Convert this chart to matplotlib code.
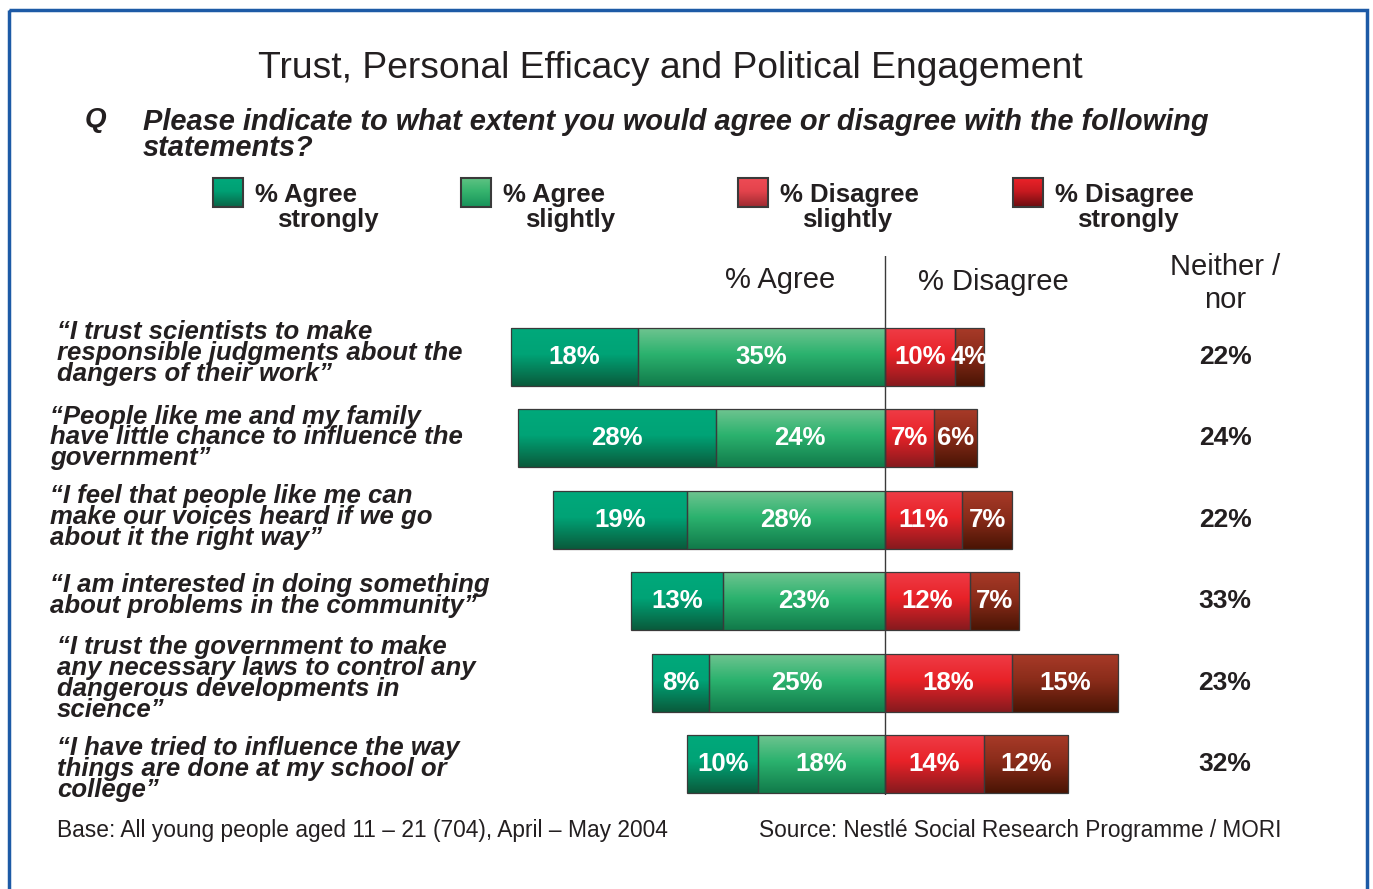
import numpy as np
import matplotlib
matplotlib.use("Agg")
import matplotlib.pyplot as plt
from matplotlib.colors import LinearSegmentedColormap
from matplotlib.patches import Rectangle

plt.rcParams['font.family'] = ['Liberation Sans', 'DejaVu Sans']

statements = [
    "\u201cI trust scientists to make\nresponsible judgments about the\ndangers of their work\u201d",
    "\u201cPeople like me and my family\nhave little chance to influence the\ngovernment\u201d",
    "\u201cI feel that people like me can\nmake our voices heard if we go\nabout it the right way\u201d",
    "\u201cI am interested in doing something\nabout problems in the community\u201d",
    "\u201cI trust the government to make\nany necessary laws to control any\ndangerous developments in\nscience\u201d",
    "\u201cI have tried to influence the way\nthings are done at my school or\ncollege\u201d",
]
agree_strongly = [18, 28, 19, 13, 8, 10]
agree_slightly = [35, 24, 28, 23, 25, 18]
disagree_slightly = [10, 7, 11, 12, 18, 14]
disagree_strongly = [4, 6, 7, 7, 15, 12]
neither = [22, 24, 22, 33, 23, 32]

legend_labels = [("% Agree", "strongly"), ("% Agree", "slightly"),
                 ("% Disagree", "slightly"), ("% Disagree", "strongly")]

# top -> middle -> bottom shading for each segment type
shades = [
    ["#00a97b", "#00a376", "#0a5a3b"],
    ["#6fc490", "#2bb26e", "#117a4a"],
    ["#ef3c46", "#e82228", "#861a1e"],
    ["#a83a28", "#8a2c1a", "#4a1404"],
]
key_shades = [
    ["#00a97b", "#00a074", "#0a6446"],
    ["#5fc283", "#36b46e", "#17925a"],
    ["#ef4b55", "#e3434c", "#9c2a30"],
    ["#ec2229", "#c81a20", "#6a0c10"],
]


def make_cmaps(sets):
    return [LinearSegmentedColormap.from_list(f"s{i}", list(zip([0, 0.45, 1], c)))
            for i, c in enumerate(sets)]


cmaps = make_cmaps(shades)
key_cmaps = make_cmaps(key_shades)
grad = np.linspace(0, 1, 256).reshape(-1, 1)

W, H = 1373, 889
fig = plt.figure(figsize=(W / 100, H / 100), dpi=100)
fig.patch.set_facecolor("white")

# overlay in pixel coordinates for frame, headings and legend
ov = fig.add_axes([0, 0, 1, 1])
ov.axis("off")
ov.add_patch(Rectangle((9, 10), 1358, 900, fill=False, edgecolor="#1d5aa6", linewidth=2.5))

ov.text(670, 68, "Trust, Personal Efficacy and Political Engagement", fontsize=26.8,
        ha="center", va="center", color="#231f20")
ov.text(85, 120, "Q", fontsize=20, fontweight="bold", fontstyle="italic",
        ha="left", va="center", color="#231f20")
ov.text(143, 135, "Please indicate to what extent you would agree or disagree with the following\nstatements?",
        fontsize=20.9, fontweight="bold", fontstyle="italic", ha="left", va="center",
        color="#231f20", linespacing=0.92)

for i, ((l1, l2), x) in enumerate(zip(legend_labels, [213, 461, 738, 1013])):
    ov.imshow(grad, cmap=key_cmaps[i], aspect="auto", extent=(x, x + 30, 207, 178),
              origin="upper", zorder=2)
    ov.add_patch(Rectangle((x, 178), 30, 29, fill=False, edgecolor="#3a3a3a", linewidth=1.5, zorder=3))
    ov.text(x + 42, 195, l1, fontsize=18.5, fontweight="bold", va="center", color="#231f20")
    ov.text(x + 64, 220, l2, fontsize=18.5, fontweight="bold", va="center", color="#231f20")

ov.text(780, 280, "% Agree", fontsize=21, ha="center", va="center", color="#231f20")
ov.text(993, 282, "% Disagree", fontsize=21, ha="center", va="center", color="#231f20")
ov.text(1225, 267, "Neither /", fontsize=21, ha="center", va="center", color="#231f20")
ov.text(1225, 300, "nor", fontsize=21, ha="center", va="center", color="#231f20")

ov.text(57, 831, "Base: All young people aged 11 \u2013 21 (704), April \u2013 May 2004",
        fontsize=16.4, va="center", color="#231f20")
ov.text(1281, 831, "Source: Nestl\u00e9 Social Research Programme / MORI",
        fontsize=16.3, va="center", ha="right", color="#231f20")

# diverging bar panel
ax = fig.add_axes([480 / W, 1 - 795 / H, 680 / W, 539 / H])
ax.patch.set_alpha(0)
rows = np.arange(len(statements))
a2 = -np.array(agree_slightly)
a1 = a2 - np.array(agree_strongly)
d1 = np.array(disagree_slightly)

segments = [
    (a1, agree_strongly),
    (a2, agree_slightly),
    (np.zeros(len(rows)), disagree_slightly),
    (d1, disagree_strongly),
]
for k, (left, vals) in enumerate(segments):
    bars = ax.barh(rows, vals, left=left, height=0.71, color="none",
                   edgecolor="#3a3a3a", linewidth=0.9, zorder=3)
    for bar, v in zip(bars, vals):
        x0, y0 = bar.get_x(), bar.get_y()
        w, h = bar.get_width(), bar.get_height()
        im = ax.imshow(grad, cmap=cmaps[k], aspect="auto", origin="lower",
                       extent=(x0, x0 + w, y0, y0 + h), zorder=2)
        im.set_clip_path(bar)
        ax.text(x0 + w / 2, y0 + h / 2, f"{v}%", ha="center", va="center",
                color="white", fontsize=18.5, fontweight="bold", zorder=4)

ax.axvline(0, color="#3a3a3a", linewidth=1.0, zorder=5)
ax.set_xlim(-57.4, 39.0)
ax.set_ylim(5.38, -1.24)
ax.axis("off")

# neither / nor column and statement labels, aligned to rows
lab_x = [57, 50, 50, 50, 57, 57]
lab_dy = [-4, -1, -3, -6, -4, 5]
for r, (s, n, lx, dy) in enumerate(zip(statements, neither, lab_x, lab_dy)):
    ypix = 795 - (5.38 - r) * (539 / 6.62)
    ov.text(1225, ypix, f"{n}%", fontsize=19, fontweight="bold", ha="center",
            va="center", color="#231f20")
    ov.text(lx, ypix + dy, s, fontsize=18.5, fontweight="bold", fontstyle="italic",
            ha="left", va="center", color="#231f20", linespacing=0.83)

ov.set_xlim(0, W)
ov.set_ylim(H, 0)
fig.savefig("out.png", dpi=100)
